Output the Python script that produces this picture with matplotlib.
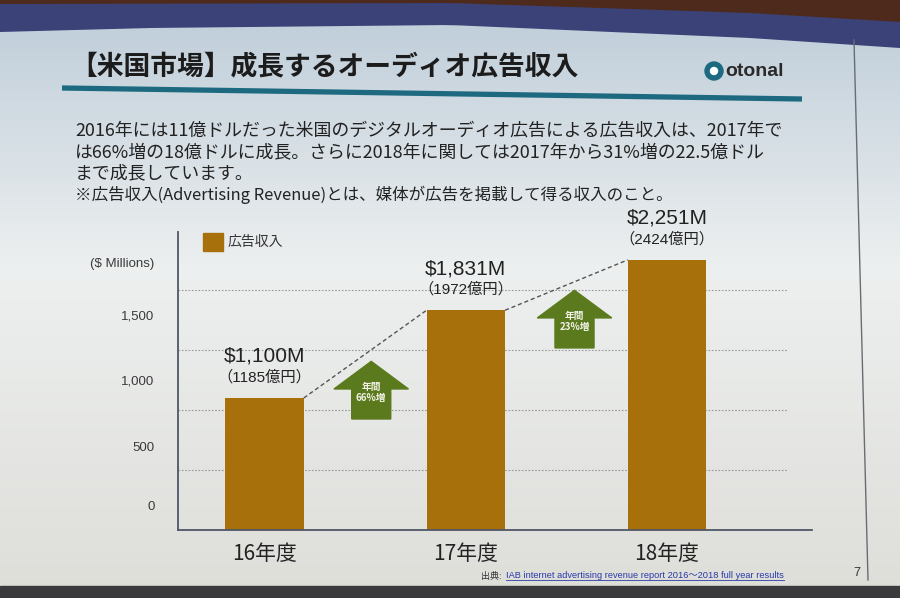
import matplotlib
matplotlib.use("Agg")
import matplotlib.pyplot as plt
from matplotlib.patches import Polygon, Rectangle, Circle
import numpy as np

plt.rcParams['font.family'] = ['Noto Sans CJK JP', 'DejaVu Sans']
LATIN = ['Liberation Sans', 'Noto Sans CJK JP', 'DejaVu Sans']

# ---------------------------------------------------------------------------
# data
# ---------------------------------------------------------------------------
years = ['16年度', '17年度', '18年度']
revenue = [1100, 1831, 2251]          # $ Millions
yen_oku = [1185, 1972, 2424]          # 億円
tick_vals = [0, 500, 1000, 1500]
unit_label = '($ Millions)'
legend_label = '広告収入'

title = '【米国市場】成長するオーディオ広告収入'
body = [
    '2016年には11億ドルだった米国のデジタルオーディオ広告による広告収入は、2017年で',
    'は66%増の18億ドルに成長。さらに2018年に関しては2017年から31%増の22.5億ドル',
    'まで成長しています。',
]
note = '※広告収入(Advertising Revenue)とは、媒体が広告を掲載して得る収入のこと。'
source_head = '出典:'
source_link = 'IAB internet advertising revenue report 2016～2018 full year results'
page_no = '7'

BAR = '#a8700b'
ARROW = '#5b7a1d'
TEAL = '#1d6a80'

W, H = 900, 598
fig = plt.figure(figsize=(9, 5.98), dpi=100)

# ---------------------------------------------------------------------------
# slide background (pixel coordinates, y downwards)
# ---------------------------------------------------------------------------
bg = fig.add_axes([0, 0, 1, 1])
g = np.linspace(0, 1, 256)[:, None]
c_top = np.array([0.74, 0.80, 0.85])
c_mid = np.array([0.93, 0.94, 0.94])
c_bot = np.array([0.87, 0.87, 0.85])
img = np.where(g < 0.45, c_top + (c_mid - c_top) * (g / 0.45),
               c_mid + (c_bot - c_mid) * ((g - 0.45) / 0.55))
bg.imshow(img.reshape(256, 1, 3), extent=[0, W, H, 0], aspect='auto')
bg.set_xlim(0, W); bg.set_ylim(H, 0)
bg.axis('off')

# projector frame at the top (curved edge of the screen)
ex = np.linspace(0, W, 60)
edge = np.interp(ex, [0, 150, 450, 750, 900], [32, 28, 25, 38, 48])
brown = np.interp(ex, [0, 450, 750, 900], [4, 3, 13, 22])
bg.add_patch(Polygon(np.column_stack([np.r_[ex, ex[::-1]], np.r_[edge, np.zeros_like(ex)]]),
                     color='#3a4278', lw=0))
bg.add_patch(Polygon(np.column_stack([np.r_[ex, ex[::-1]], np.r_[brown, np.zeros_like(ex)]]),
                     color='#4e2a1c', lw=0))
bg.add_patch(Rectangle((0, 586), W, 12, color='#3a3a3c'))
bg.plot([854, 868], [40, 580], color='#6a6c74', lw=1)

# header
bg.text(70, 66, title, fontsize=19.3, fontweight='bold', color='#1c1c1c', va='center')
bg.plot([62, 802], [88, 99], color=TEAL, lw=3.8, solid_capstyle='butt')
bg.add_patch(Circle((714, 71), 9, color=TEAL))
bg.add_patch(Circle((714, 71), 3.5, color='white'))
bg.text(725, 72, 'otonal', fontsize=14, fontweight='bold', color='#2a2a2a',
        va='center', family=LATIN)

for i, line in enumerate(body):
    bg.text(75, 131 + 21 * i, line, fontsize=12.9, color='#222222', va='center')
bg.text(75, 195, note, fontsize=11.9, color='#222222', va='center')

# legend
bg.add_patch(Rectangle((203, 233), 20, 18, color=BAR))
bg.text(228, 242, legend_label, fontsize=10, color='#333333', va='center')

# source / page
bg.text(481, 576, source_head, fontsize=6.5, color='#333333', va='center')
link = bg.text(506, 576, source_link, fontsize=6.7, color='#2a3aa8', va='center',
               family=LATIN)
bg.text(857, 573, page_no, fontsize=9, color='#333333', va='center', ha='center',
        family=LATIN)

# ---------------------------------------------------------------------------
# chart
# ---------------------------------------------------------------------------
ax = fig.add_axes([178 / W, 1 - 530 / H, (812 - 178) / W, (530 - 232) / H])
ax.set_facecolor('none')
x = np.arange(len(years))
w = 0.39
ax.bar(x, revenue, width=w, color=BAR, zorder=2)
ax.set_xlim(-0.43, 2.72)
ax.set_ylim(0, 2483)

for gv in [500, 1000, 1500, 2000]:
    ax.axhline(gv, xmax=0.96, color='#9a9a9a', lw=0.8, ls=(0, (1.5, 1.5)), zorder=1)

for s in ['top', 'right']:
    ax.spines[s].set_visible(False)
for s in ['left', 'bottom']:
    ax.spines[s].set_color('#4f5766')
    ax.spines[s].set_linewidth(1.3)

ax.set_xticks(x, years, fontsize=15, color='#222222')
ax.tick_params(axis='x', length=0, pad=9)
# on the slide the tick labels sit above their gridlines
label_pos = [208, 692, 1250, 1792, 2225]
ylab = [f'{v:,}' for v in tick_vals] + [unit_label]
ax.set_yticks(label_pos, ylab)
ax.tick_params(axis='y', length=0, pad=17, labelsize=9.5, labelcolor='#3a3a3a')
for lab in ax.get_yticklabels():
    lab.set_family(LATIN)

for i, (v, y) in enumerate(zip(revenue, yen_oku)):
    ax.annotate(f'${v:,}M', (i, v), xytext=(0, 30), textcoords='offset points',
                ha='center', va='center', fontsize=15, color='#222222', family=LATIN,
                annotation_clip=False)
    ax.annotate(f'（{y}億円）', (i, v), xytext=(0, 15), textcoords='offset points',
                ha='center', va='center', fontsize=11, color='#222222', family=LATIN,
                annotation_clip=False)

# dashed connectors between bar tops
for i in range(len(revenue) - 1):
    ax.plot([i + w / 2, i + 1 - w / 2], [revenue[i], revenue[i + 1]],
            color='#555555', lw=1, ls=(0, (3, 2)), zorder=3)

# growth arrows
arrow_bottom = [925, 1517]
arrow_cx = [0.53, 1.54]
head_h, total_h = 230, 480
for i in range(len(revenue) - 1):
    cx = arrow_cx[i]
    b = arrow_bottom[i]
    hb = b + total_h - head_h
    tp = b + total_h
    pts = [(cx - 0.097, b), (cx + 0.097, b), (cx + 0.097, hb), (cx + 0.185, hb),
           (cx, tp), (cx - 0.185, hb), (cx - 0.097, hb)]
    ax.add_patch(Polygon(pts, color=ARROW, zorder=3))
    pct = round((revenue[i + 1] / revenue[i] - 1) * 100)
    ax.text(cx, hb - 28, f'年間\n{pct}%増', ha='center', va='center', fontsize=7,
            color='#f2f2e8', fontweight='bold', linespacing=1.2, zorder=4)

# underline for the source link
fig.canvas.draw()
bb = link.get_window_extent().transformed(bg.transData.inverted())
bg.plot([bb.x0, bb.x1], [bb.y0 - 0.5, bb.y0 - 0.5], color='#2a3aa8', lw=0.6)

fig.savefig('out.png', dpi=100)
